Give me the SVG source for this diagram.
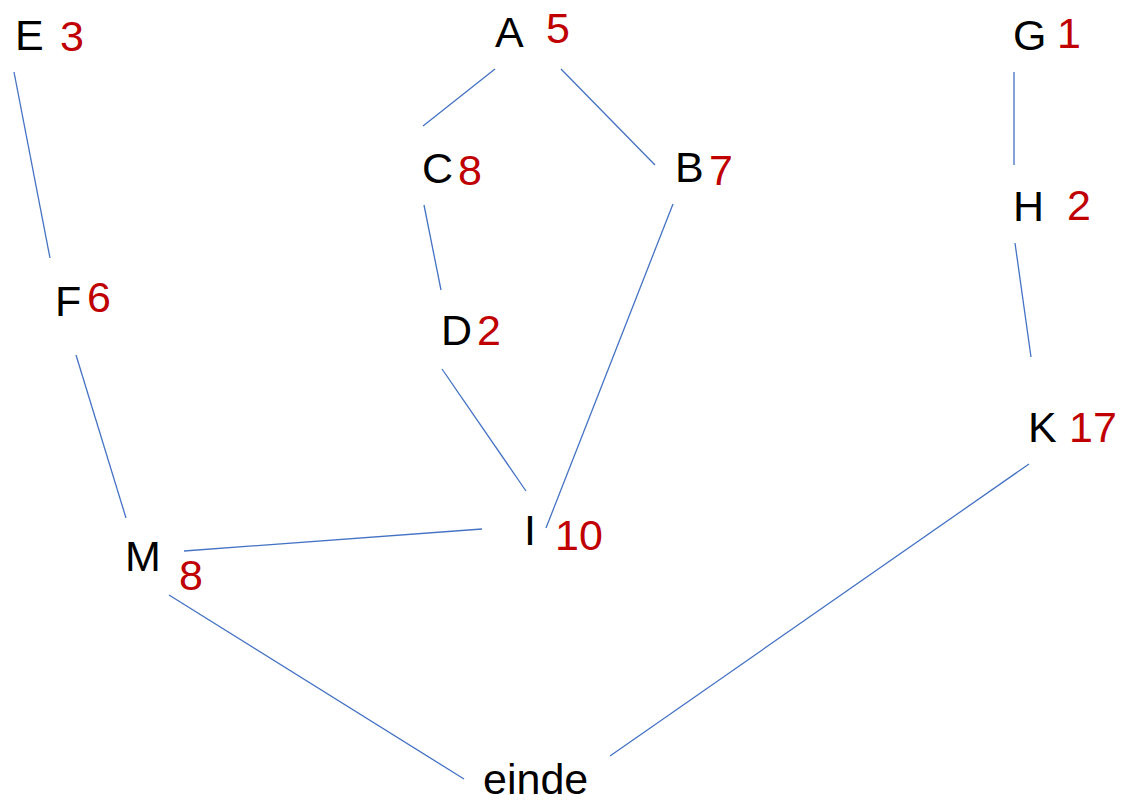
<svg xmlns="http://www.w3.org/2000/svg" width="1125" height="802" viewBox="0 0 1125 802">
<style>
.n{font-family:"Liberation Sans",Arial,sans-serif;font-size:43px;fill:#000}
.v{font-family:"Liberation Sans",Arial,sans-serif;font-size:43px;fill:#C00000}
.c line{stroke:#4472C4;stroke-width:1.3;fill:none}
</style>
<rect width="1125" height="802" fill="#fff"/>
<g id="connectors" class="c">
<line x1="14" y1="72" x2="50" y2="258"/>
<line x1="495" y1="69" x2="423" y2="126"/>
<line x1="561" y1="69" x2="655" y2="165"/>
<line x1="424" y1="205" x2="441" y2="290"/>
<line x1="673" y1="204" x2="546" y2="528"/>
<line x1="442" y1="369" x2="526" y2="491"/>
<line x1="76" y1="355" x2="126" y2="518"/>
<line x1="184" y1="551" x2="482" y2="529"/>
<line x1="169" y1="595" x2="464" y2="779"/>
<line x1="610" y1="756" x2="1029" y2="464"/>
<line x1="1014" y1="72" x2="1014" y2="165"/>
<line x1="1015" y1="243" x2="1031" y2="357"/>
</g>
<g id="node-E"><text class="n" x="15" y="50">E</text><text class="v" x="60" y="51">3</text></g>
<g id="node-A"><text class="n" x="495" y="47">A</text><text class="v" x="546" y="43">5</text></g>
<g id="node-C"><text class="n" x="422" y="183">C</text><text class="v" x="458" y="185">8</text></g>
<g id="node-B"><text class="n" x="675" y="182">B</text><text class="v" x="709" y="185">7</text></g>
<g id="node-D"><text class="n" x="441" y="345">D</text><text class="v" x="477" y="345">2</text></g>
<g id="node-F"><text class="n" x="55" y="316">F</text><text class="v" x="87" y="312">6</text></g>
<g id="node-M"><text class="n" x="125" y="571">M</text><text class="v" x="179" y="590">8</text></g>
<g id="node-I"><text class="n" x="524" y="545">I</text><text class="v" x="555" y="550">10</text></g>
<g id="node-einde"><text class="n" x="483" y="794">einde</text></g>
<g id="node-G"><text class="n" x="1013" y="50">G</text><text class="v" x="1057" y="48">1</text></g>
<g id="node-H"><text class="n" x="1013" y="221">H</text><text class="v" x="1067" y="220">2</text></g>
<g id="node-K"><text class="n" x="1028" y="442">K</text><text class="v" x="1069" y="442">17</text></g>
</svg>
